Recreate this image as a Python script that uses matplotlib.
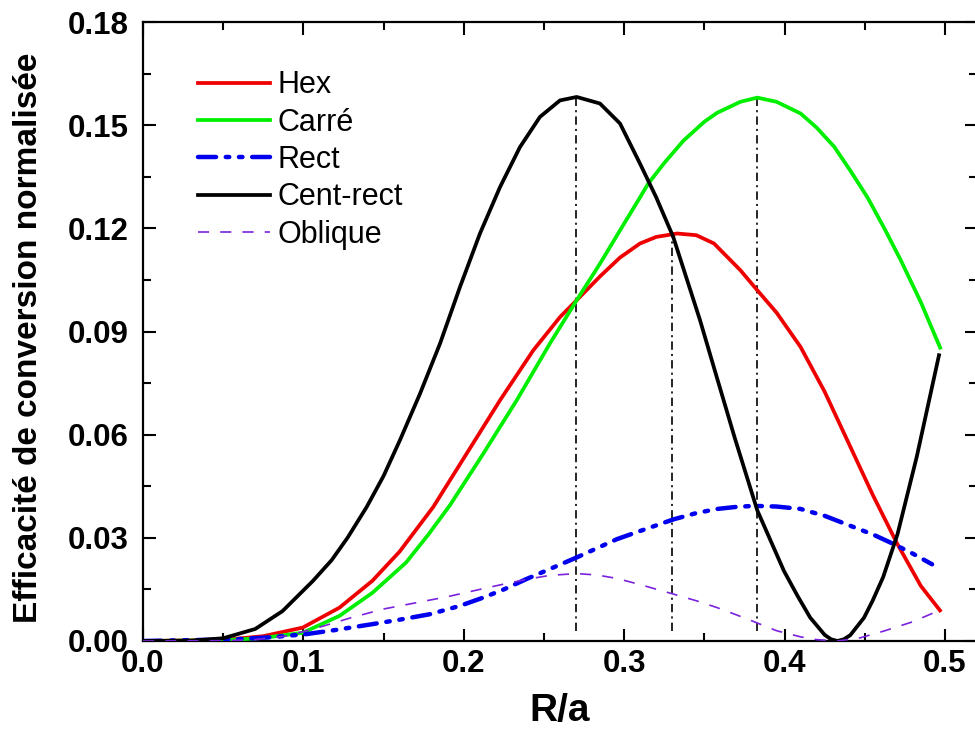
import matplotlib
matplotlib.use("Agg")
import matplotlib.pyplot as plt
from matplotlib.ticker import MultipleLocator, FormatStrFormatter

plt.rcParams['font.family'] = ['Liberation Sans', 'DejaVu Sans']
plt.rcParams['lines.scale_dashes'] = False

# ---- data ----
cent_x = [0.0, 0.03, 0.05, 0.07, 0.087, 0.106, 0.1176, 0.1275, 0.1395, 0.150, 0.1602, 0.1727,
          0.1852, 0.1976, 0.2101, 0.2226, 0.235, 0.2475, 0.26, 0.2704, 0.2849, 0.2974, 0.3099,
          0.32, 0.3306, 0.3473, 0.3577, 0.369, 0.383, 0.3996, 0.408, 0.416, 0.425, 0.429, 0.433,
          0.437, 0.441, 0.4496, 0.455, 0.4615, 0.4704, 0.4824, 0.4963]
cent_y = [0.0, 0.0001, 0.0008, 0.0035, 0.0087, 0.0175, 0.0235, 0.030, 0.039, 0.048, 0.0584, 0.0719,
          0.0865, 0.1029, 0.1185, 0.132, 0.1436, 0.1524, 0.1572, 0.1582, 0.1563, 0.1505, 0.1388,
          0.129, 0.1175, 0.0933, 0.0768, 0.059, 0.038, 0.0204, 0.0132, 0.0068, 0.0018, 0.0005, 0.0,
          0.0005, 0.0017, 0.0068, 0.0118, 0.0186, 0.031, 0.0535, 0.0831]

hex_x = [0.0, 0.05, 0.075, 0.0996, 0.1225, 0.143, 0.16, 0.181, 0.2018, 0.2226, 0.2433, 0.26,
         0.2704, 0.2849, 0.2974, 0.3099, 0.32, 0.333, 0.345, 0.356, 0.3725, 0.383, 0.395,
         0.41, 0.425, 0.44, 0.455, 0.47, 0.485, 0.4969]
hex_y = [0.0, 0.0003, 0.0014, 0.0039, 0.0097, 0.0175, 0.026, 0.039, 0.0545, 0.07, 0.0845, 0.0942,
         0.0991, 0.106, 0.1115, 0.1156, 0.1175, 0.1185, 0.118, 0.1156, 0.1078, 0.102, 0.0955,
         0.0855, 0.0725, 0.0575, 0.0425, 0.0285, 0.016, 0.0089]

carre_x = [0.0, 0.05, 0.075, 0.0996, 0.1225, 0.143, 0.164, 0.178, 0.1914, 0.2122, 0.233, 0.2537,
           0.2704, 0.2849, 0.2974, 0.3099, 0.315, 0.325, 0.337, 0.35, 0.358, 0.3725, 0.383,
           0.395, 0.41, 0.42, 0.431, 0.441, 0.4517, 0.462, 0.4725, 0.485, 0.497]
carre_y = [0.0, 0.0002, 0.0009, 0.0024, 0.0073, 0.014, 0.0228, 0.031, 0.0395, 0.0545, 0.07, 0.0865,
           0.0991, 0.1097, 0.1194, 0.129, 0.133, 0.139, 0.1455, 0.151, 0.1536, 0.1568, 0.158,
           0.1568, 0.1534, 0.1493, 0.1437, 0.1368, 0.129, 0.1202, 0.1107, 0.0985, 0.0853]

rect_x = [0.0, 0.058, 0.08, 0.1017, 0.12, 0.143, 0.16, 0.179, 0.1975, 0.212, 0.225, 0.239, 0.255,
          0.2704, 0.2954, 0.31, 0.331, 0.345, 0.358, 0.37, 0.381, 0.395, 0.41, 0.425, 0.441,
          0.455, 0.468, 0.48, 0.492]
rect_y = [0.0, 0.0005, 0.0011, 0.002, 0.0032, 0.0049, 0.0062, 0.0078, 0.0102, 0.0126, 0.015, 0.018,
          0.0212, 0.0243, 0.0296, 0.032, 0.0354, 0.0372, 0.0384, 0.039, 0.0393, 0.0391, 0.0384,
          0.0364, 0.0335, 0.031, 0.0282, 0.0254, 0.0223]

obl_x = [0.0, 0.05, 0.07, 0.09, 0.11, 0.13, 0.15, 0.17, 0.19, 0.21, 0.2225, 0.24, 0.254, 0.2704,
         0.283, 0.2954, 0.31, 0.331, 0.345, 0.358, 0.37, 0.381, 0.395, 0.41, 0.42, 0.433, 0.447,
         0.462, 0.48, 0.4965]
obl_y = [0.0, 0.0001, 0.0004, 0.0015, 0.0040, 0.0068, 0.0093, 0.0111, 0.0129, 0.015, 0.0163, 0.018,
         0.0191, 0.0196, 0.0192, 0.0182, 0.0164, 0.0136, 0.0117, 0.0097, 0.0076, 0.0056, 0.003,
         0.0012, 0.0004, 0.0, 0.0009, 0.0029, 0.0056, 0.0089]

peak_x = [0.27, 0.33, 0.383]
peak_y = [0.158, 0.1185, 0.158]
peak_base = 0.003

labels = ['Hex', 'Carré', 'Rect', 'Cent-rect', 'Oblique']
xticks = [0.0, 0.1, 0.2, 0.3, 0.4, 0.5]
yticks = [0.00, 0.03, 0.06, 0.09, 0.12, 0.15, 0.18]

# ---- figure ----
fig = plt.figure(figsize=(9.75, 7.35), dpi=100)
ax = fig.add_axes([143 / 975, 94 / 735, 834 / 975, 619 / 735])

ax.plot(hex_x, hex_y, color='#EE0000', lw=2.7, label=labels[0], zorder=3)
ax.plot(carre_x, carre_y, color='#00EE00', lw=2.7, label=labels[1], zorder=3)
ax.plot(rect_x, rect_y, color='#0000EE', lw=3.2, label=labels[2],
        linestyle=(0, (13, 7, 2.5, 7, 2.5, 7)), dash_capstyle='round', zorder=3)
ax.plot(cent_x, cent_y, color='black', lw=2.7, label=labels[3], zorder=3)
ax.plot(obl_x, obl_y, color='#7B22DD', lw=1.2, label=labels[4],
        linestyle=(0, (8, 8)), zorder=3)

for px, py in zip(peak_x, peak_y):
    ax.plot([px, px], [peak_base, py], color='black', lw=1.2,
            linestyle=(0, (6, 3, 1.5, 3)), zorder=2)

ax.set_xlim(0, 0.52)
ax.set_ylim(0, 0.18)
ax.set_xticks(xticks)
ax.set_yticks(yticks)
ax.xaxis.set_major_formatter(FormatStrFormatter('%.1f'))
ax.yaxis.set_major_formatter(FormatStrFormatter('%.2f'))
ax.xaxis.set_minor_locator(MultipleLocator(0.05))
ax.yaxis.set_minor_locator(MultipleLocator(0.015))

ax.tick_params(which='both', direction='in', top=True, right=True, width=1.5)
ax.tick_params(which='major', length=9)
ax.tick_params(which='minor', length=5.5)
ax.tick_params(axis='x', which='major', pad=6)
ax.tick_params(axis='y', which='major', pad=10)
for lab in ax.get_xticklabels() + ax.get_yticklabels():
    lab.set_fontsize(22.5)
    lab.set_fontweight('bold')
for sp in ax.spines.values():
    sp.set_linewidth(1.6)

ax.set_xlabel('R/a', fontsize=28, fontweight='bold')
ax.set_ylabel('Efficacité de conversion normalisée', fontsize=24, fontweight='bold')
ax.xaxis.set_label_coords(0.5, -0.084)
ax.yaxis.set_label_coords(-0.119, 0.49)

leg = ax.legend(loc='upper left', bbox_to_anchor=(0.066, 0.922), frameon=False,
                fontsize=22, handlelength=2.35, handletextpad=0.25, labelspacing=0.24,
                borderpad=0, borderaxespad=0)

fig.savefig('out.png', dpi=100)
